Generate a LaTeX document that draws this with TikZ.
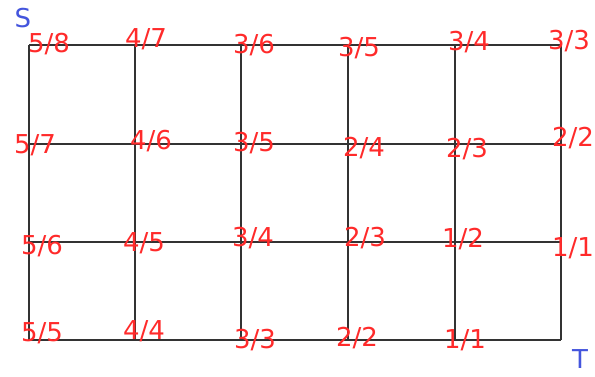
\documentclass[tikz,border=0pt]{standalone}
\usepackage{fontspec}
\setmainfont{DejaVu Sans}
\usetikzlibrary{positioning}
\definecolor{lblred}{HTML}{FF2A2A}
\definecolor{lblblue}{HTML}{4455DD}

\begin{document}
\begin{tikzpicture}[x=1pt, y=-1pt, font=\fontsize{26}{26}\selectfont,
  frac/.style={text=lblred, inner sep=0pt},
  term/.style={text=lblblue, inner sep=0pt},
  gridline/.style={draw=black!80, line width=1.2pt}]
\useasboundingbox (0,0) rectangle (595,376);
% grid
\foreach \x in {29,135,241,348,455,561}
  \draw[gridline] (\x,45) -- (\x,340);
\foreach \y in {45,144,242,340}
  \draw[gridline] (29,\y) -- (561,\y);
% labels, top row
\node[frac] (a1) at (49,44) {5/8};
\node[frac] (a2) at (146,39) {4/7};
\node[frac] (a3) at (254,45) {3/6};
\node[frac] (a4) at (359,48) {3/5};
\node[frac] (a5) at (469,42) {3/4};
\node[frac] (a6) at (569,41) {3/3};
% second row
\node[frac] (b1) at (35,145) {5/7};
\node[frac] (b2) at (151,141) {4/6};
\node[frac] (b3) at (254,143) {3/5};
\node[frac] (b4) at (364,148) {2/4};
\node[frac] (b5) at (467,149) {2/3};
\node[frac] (b6) at (573,138) {2/2};
% third row
\node[frac] (c1) at (42,246) {5/6};
\node[frac] (c2) at (144,243) {4/5};
\node[frac] (c3) at (253,238) {3/4};
\node[frac] (c4) at (365,238) {2/3};
\node[frac] (c5) at (463,239) {1/2};
\node[frac] (c6) at (573,248) {1/1};
% bottom row
\node[frac] (d1) at (42,333) {5/5};
\node[frac] (d2) at (144,331) {4/4};
\node[frac] (d3) at (255,340) {3/3};
\node[frac] (d4) at (357,338) {2/2};
\node[frac] (d5) at (465,340) {1/1};
% source and sink
\node[term] (S) at (23,18) {S};
\node[term] (T) at (580,359) {T};
\end{tikzpicture}
\end{document}
